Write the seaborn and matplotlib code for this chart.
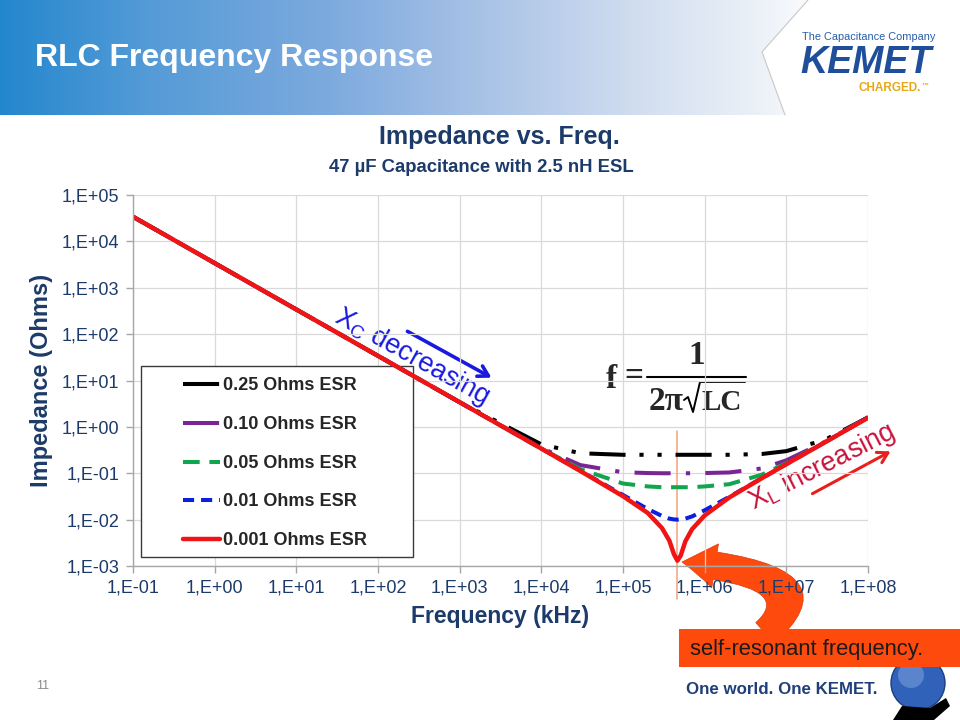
# Impedance vs. frequency of a 47 uF capacitor with 2.5 nH ESL (KEMET slide)
import numpy as np
import pandas as pd
import seaborn as sns
import matplotlib.pyplot as plt
from matplotlib.patches import Polygon, Rectangle, FancyArrowPatch, Circle
from matplotlib.path import Path
from matplotlib.ticker import FixedLocator, FixedFormatter, NullLocator

# data
# -----------------------------------------------------------------------
freq_hz = [0.1, 1, 10, 100, 1e3, 1e4, 3e4, 1e5, 2e5, 3e5, 3.7e5, 4.2e5,
           4.64e5, 5.1e5, 5.8e5, 7e5, 1e6, 2e6, 5e6, 1e7, 3e7, 1e8]

z_esr_025 = [34000, 3400, 340, 34, 3.4, 0.42, 0.27, 0.25, 0.25, 0.25, 0.25, 0.25,
             0.25, 0.25, 0.25, 0.25, 0.25, 0.25, 0.26, 0.30, 0.53, 1.6]
z_esr_010 = [34000, 3400, 340, 34, 3.4, 0.35, 0.15, 0.105, 0.101, 0.10, 0.10, 0.10,
             0.10, 0.10, 0.10, 0.10, 0.101, 0.104, 0.127, 0.19, 0.48, 1.6]
z_esr_005 = [34000, 3400, 340, 34, 3.4, 0.34, 0.123, 0.060, 0.052, 0.050, 0.050, 0.050,
             0.050, 0.050, 0.050, 0.050, 0.052, 0.058, 0.093, 0.165, 0.47, 1.6]
z_esr_001 = [34000, 3400, 340, 34, 3.4, 0.34, 0.113, 0.034, 0.017, 0.012, 0.0105, 0.0101,
             0.010, 0.0101, 0.0105, 0.0117, 0.0159, 0.031, 0.078, 0.157, 0.47, 1.6]
z_esr_0001 = [34000, 3400, 340, 34, 3.4, 0.34, 0.112, 0.032, 0.014, 0.0066, 0.0035, 0.0018,
              0.0013, 0.0017, 0.0034, 0.0062, 0.0123, 0.030, 0.078, 0.157, 0.47, 1.57]

series_labels = ["0.25 Ohms ESR", "0.10 Ohms ESR", "0.05 Ohms ESR",
                 "0.01 Ohms ESR", "0.001 Ohms ESR"]
resonance_hz = 4.64e5

y_ticks = [1e-3, 1e-2, 1e-1, 1e0, 1e1, 1e2, 1e3, 1e4, 1e5]
y_tick_labels = ["1,E-03", "1,E-02", "1,E-01", "1,E+00", "1,E+01",
                 "1,E+02", "1,E+03", "1,E+04", "1,E+05"]
x_ticks = [1e-1, 1e0, 1e1, 1e2, 1e3, 1e4, 1e5, 1e6, 1e7, 1e8]
x_tick_labels = ["1,E-01", "1,E+00", "1,E+01", "1,E+02", "1,E+03",
                 "1,E+04", "1,E+05", "1,E+06", "1,E+07", "1,E+08"]

df = pd.DataFrame({
    "freq": freq_hz * 5,
    "z": z_esr_025 + z_esr_010 + z_esr_005 + z_esr_001 + z_esr_0001,
    "esr": np.repeat(series_labels, len(freq_hz)),
})

# estilos
# -----------------------------------------------------------------------
sns.set_theme(style="whitegrid")
plt.rcParams["font.family"] = ["Liberation Sans", "DejaVu Sans"]
plt.rcParams["lines.scale_dashes"] = False
plt.rcParams["mathtext.fontset"] = "custom"
plt.rcParams["mathtext.rm"] = "Liberation Sans"
plt.rcParams["mathtext.it"] = "Liberation Sans:italic"
plt.rcParams["mathtext.bf"] = "Liberation Sans:bold"

navy = "#1c3b6a"
serif = ["Liberation Serif", "DejaVu Serif"]
colors = ["#000000", "#7a2596", "#12a550", "#0a1fe0", "#f01414"]
widths = [2.9, 2.9, 2.9, 2.9, 3.2]
dashes = [(26, 10, 3, 10, 3, 10), (26, 11, 3, 11), (12, 7), (8, 5), None]

W, H = 960, 720


def fx(x):
    return x / W


def fy(y):
    return 1 - y / H


fig = plt.figure(figsize=(9.6, 7.2), dpi=100)

# capa de fondo en pixeles (cabecera, anotaciones)
ov = fig.add_axes([0, 0, 1, 1], zorder=-1)
ov.axis("off")

# cabecera con degradado
stops_x = [0, 150, 330, 480, 640, 760, 810, 960]
stops_c = np.array([(35, 135, 205), (85, 155, 215), (125, 170, 222), (168, 194, 230),
                    (210, 222, 240), (236, 241, 248), (250, 251, 253), (255, 255, 255)]) / 255
xs = np.arange(W)
grad = np.stack([np.interp(xs, stops_x, stops_c[:, k]) for k in range(3)], axis=-1)
ov.imshow(grad[np.newaxis, :, :], extent=(0, W, 115, 0), aspect="auto")
ov.add_patch(Polygon([(808, 0), (762, 52), (785, 115), (960, 115), (960, 0)],
                     closed=True, facecolor="white", edgecolor="none"))
ov.plot([808, 762, 785], [0, 52, 115], color="#c8c8c8", lw=0.8)
ov.set_xlim(0, W)
ov.set_ylim(H, 0)

ov.text(35, 58, "RLC Frequency Response", color="white", fontsize=23,
        fontweight="bold", va="center", ha="left")
ov.text(869, 37, "The Capacitance Company", color="#2a5ea8", fontsize=7.9,
        va="center", ha="center")
ov.text(866, 73, "KEMET", color="#1f4e9b", fontsize=27, fontweight="bold",
        fontstyle="italic", va="baseline", ha="center")
ov.text(890, 91, "CHARGED.", color="#e6a817", fontsize=8.5, fontweight="bold",
        va="baseline", ha="center")
ov.text(922, 88, "\u2122", color="#e6a817", fontsize=5, fontweight="bold",
        va="baseline", ha="left")

# pie de pagina
ov.text(43, 686, "11", color="#8c8c8c", fontsize=9, va="center", ha="center")
ov.text(782, 690, "One world. One KEMET.", color="#1f3f7a", fontsize=12.2,
        fontweight="bold", va="center", ha="center")
ov.add_patch(Circle((918, 683), 27, facecolor="#2f62b8", edgecolor="#1b3f80", lw=1))
ov.add_patch(Circle((911, 675), 13, facecolor="#7fa3de", edgecolor="none", alpha=0.55))
ov.add_patch(Polygon([(893, 720), (902, 706), (930, 708), (946, 698), (950, 706), (934, 720)],
                     closed=True, facecolor="black", edgecolor="none"))

# titulos
ov.text(499, 137, "Impedance vs. Freq.", color=navy, fontsize=18,
        fontweight="bold", va="center", ha="center")
ov.text(481, 168, "47 \u00b5F Capacitance with 2.5 nH ESL", color=navy, fontsize=13.3,
        fontweight="bold", va="center", ha="center")
ov.text(42, 380, "Impedance (Ohms)", color=navy, fontsize=17, fontweight="bold",
        rotation=90, va="center", ha="center")
ov.text(500, 617, "Frequency (kHz)", color=navy, fontsize=16.5, fontweight="bold",
        va="center", ha="center")

# anotaciones
ov.text(412, 357, r"$\mathregular{X_C}$ decreasing", color="#1a1adf", fontsize=19.5,
        rotation=-29, rotation_mode="anchor", va="center", ha="center")
ov.annotate("", xy=(494, 379), xytext=(405, 330),
            arrowprops=dict(arrowstyle="->,head_length=0.6,head_width=0.35",
                            color="#1a1adf", lw=2.6))
ov.text(822, 467, r"$\mathregular{X_L}$ increasing", color="#c8143c", fontsize=19.5,
        rotation=27, rotation_mode="anchor", va="center", ha="center")
ov.annotate("", xy=(893, 450), xytext=(810, 495),
            arrowprops=dict(arrowstyle="->,head_length=0.6,head_width=0.35",
                            color="#e8201c", lw=2.2))

# formula f = 1 / (2 pi sqrt(LC))
ov.text(611, 379, "f", family=serif, fontweight="bold", fontsize=24,
        ha="center", va="center")
ov.text(634, 377, "=", family=serif, fontweight="bold", fontsize=24,
        ha="center", va="center")
ov.plot([647, 746], [377, 377], color="black", lw=1.5)
ov.text(697, 355, "1", family=serif, fontweight="bold", fontsize=24,
        ha="center", va="center")
ov.text(666, 401, "2\u03c0", family=serif, fontweight="bold", fontsize=24,
        ha="center", va="center")
ov.plot([684, 688, 693, 700, 745], [400, 397, 412, 382, 382], color="black", lw=1.4)
ov.text(722, 402, "LC", family=serif, fontweight="bold", fontsize=21,
        ha="center", va="center")

# flecha curva y recuadro de la frecuencia de resonancia
arrow_path = Path([(765, 633), (830, 575), (682, 562)],
                  [Path.MOVETO, Path.CURVE3, Path.CURVE3])
ov.add_patch(FancyArrowPatch(path=arrow_path,
                             arrowstyle="simple,head_width=32,head_length=24,tail_width=20",
                             mutation_scale=1, facecolor="#ff4a0d", edgecolor="#d83a10",
                             lw=0.5))
ov.add_patch(Rectangle((679, 629), 290, 38, facecolor="#ff4a0d", edgecolor="none"))
ov.text(690, 649, "self-resonant frequency.", color="#1a1a1a", fontsize=15.8,
        va="center", ha="left")

# grafico principal
# -----------------------------------------------------------------------
ax = fig.add_axes([fx(133), fy(566), 735 / W, 371 / H])
ax.set_facecolor("none")
ax.set_xscale("log")
ax.set_yscale("log")

handles = []
for name, c, lw, d in zip(series_labels, colors, widths, dashes):
    sub = df[df["esr"] == name]
    sns.lineplot(data=sub, x="freq", y="z", color=c, linewidth=lw, ax=ax,
                 errorbar=None, label=name, legend=False)
    line = ax.lines[-1]
    if d is not None:
        line.set_dashes(d)
    handles.append(line)

ax.plot([resonance_hz, resonance_hz], [0.83, 1.9e-4], color="#f4a27a", lw=1.1,
        clip_on=False, zorder=1.8)

ax.set_xlim(x_ticks[0], x_ticks[-1])
ax.set_ylim(y_ticks[0], y_ticks[-1])
ax.xaxis.set_major_locator(FixedLocator(x_ticks))
ax.xaxis.set_major_formatter(FixedFormatter(x_tick_labels))
ax.yaxis.set_major_locator(FixedLocator(y_ticks))
ax.yaxis.set_major_formatter(FixedFormatter(y_tick_labels))
ax.xaxis.set_minor_locator(NullLocator())
ax.yaxis.set_minor_locator(NullLocator())
ax.set_xlabel("")
ax.set_ylabel("")

ax.grid(True, which="major", color="#d9d9d9", linewidth=0.9)
ax.set_axisbelow(True)
for side in ["top", "right"]:
    ax.spines[side].set_visible(False)
for side in ["left", "bottom"]:
    ax.spines[side].set_color("#a6a6a6")
    ax.spines[side].set_linewidth(1.0)
ax.tick_params(axis="both", which="major", bottom=True, left=True, length=5,
               width=1, color="#a6a6a6", direction="out", labelsize=13,
               labelcolor=navy, pad=5)

# leyenda con marco propio
ax.add_patch(Rectangle((fx(141), fy(557)), 272 / W, 191 / H, transform=fig.transFigure,
                       facecolor="white", edgecolor="#3a3a3a", lw=1.0, zorder=1.5,
                       clip_on=False))
ax.legend(handles, series_labels, loc="upper left",
          bbox_to_anchor=(fx(183), fy(377.5)), bbox_transform=fig.transFigure,
          frameon=False, borderpad=0, borderaxespad=0, handlelength=2.05,
          handletextpad=0.15, labelspacing=1.2,
          prop={"weight": "bold", "size": 13})

fig.savefig("out.png", dpi=100)
